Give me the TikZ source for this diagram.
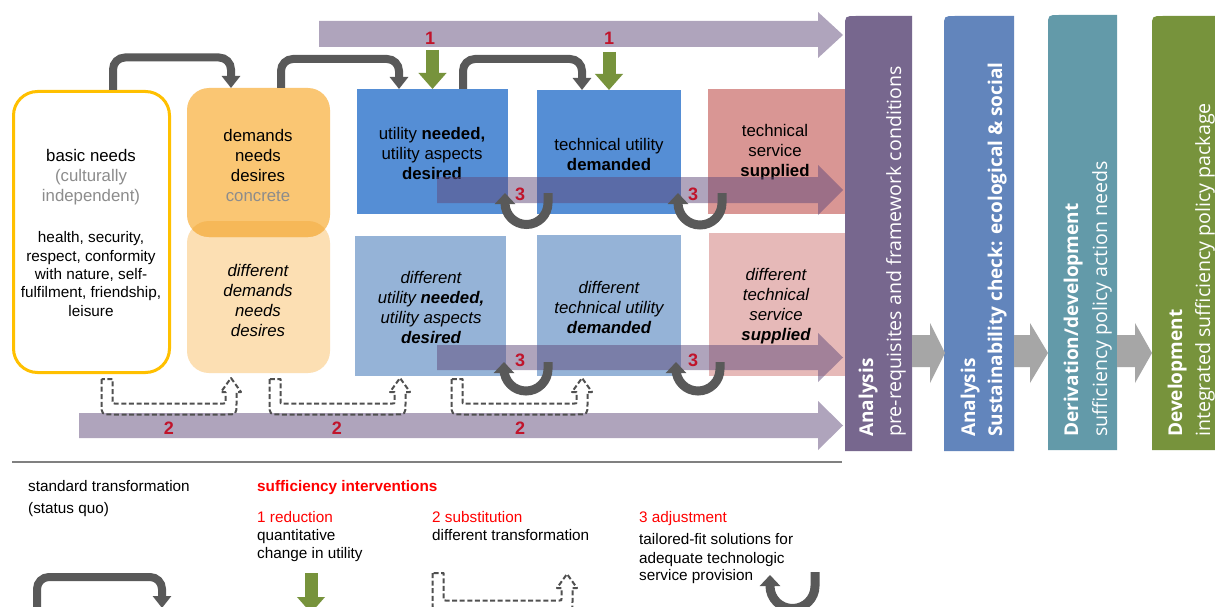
\documentclass[tikz,border=0pt]{standalone}
\usepackage{fontspec}
\setmainfont{Liberation Sans}
\newfontfamily\panelfont{Open Sans}
\usetikzlibrary{arrows.meta}
\definecolor{flowgrey}{HTML}{595959}
\definecolor{lavarrow}{HTML}{604A7B}
\definecolor{leafgreen}{HTML}{77933C}
\definecolor{numred}{HTML}{C0142B}
\definecolor{legred}{HTML}{FF0000}
\definecolor{softgrey}{HTML}{8C8C8C}
\definecolor{needyellow}{HTML}{FFC000}
\definecolor{orangetop}{HTML}{FAC673}
\definecolor{orangelow}{HTML}{FCDFB3}
\definecolor{orangeover}{HTML}{F6B858}
\definecolor{bluestrong}{HTML}{558ED5}
\definecolor{bluesoft}{HTML}{95B3D7}
\definecolor{redstrong}{HTML}{D99694}
\definecolor{redsoft}{HTML}{E6B9B8}
\definecolor{panelA}{HTML}{77678E}
\definecolor{panelB}{HTML}{6285BC}
\definecolor{panelC}{HTML}{639AA9}
\definecolor{panelD}{HTML}{77933C}
\definecolor{stepgrey}{HTML}{A6A6A6}
\definecolor{rulegrey}{HTML}{808080}
\definecolor{dashgrey}{HTML}{505050}
\tikzset{
  boxtext/.style={inner sep=0pt, align=center, font=\fontsize{16.8}{20}\selectfont},
  smalltext/.style={inner sep=0pt, align=center, font=\fontsize{15.3}{18.3}\selectfont},
  legtext/.style={inner sep=0pt, anchor=base west, font=\fontsize{15.3}{18}\selectfont},
  numlabel/.style={inner sep=0pt, text=numred, font=\fontsize{18}{18}\selectfont\bfseries},
  flow/.style={draw=flowgrey, line width=8pt, rounded corners=12pt, -{Triangle[width=18pt,length=12pt]}},
  turn/.style={draw=flowgrey, line width=9pt, -{Triangle[width=20pt,length=11pt]}},
  reduce/.style={draw=leafgreen, line width=13pt, -{Triangle[width=27pt,length=16pt]}},
  lavender/.style={fill=lavarrow, fill opacity=0.5},
  subst/.style={draw=dashgrey, line width=2pt, dash pattern=on 5pt off 2.6pt, line join=round},
  paneltitle/.style={rotate=90, anchor=base west, inner sep=0pt, text=white, font=\panelfont\fontsize{19}{19}\selectfont\bfseries},
  panelsub/.style={rotate=90, anchor=base west, inner sep=0pt, text=white, font=\panelfont\fontsize{19.6}{19.6}\selectfont},
  plainbox/.style={inner sep=0pt, outer sep=0pt, minimum width=#1},
  needbox/.style={draw=needyellow, line width=3pt, fill=white, rounded corners=24pt, inner sep=0pt, minimum width=156pt, minimum height=281pt},
}
\newcommand{\uturnarrow}[5]{% xr, xl, ystart, ycurve, yend
  \draw[turn] ({#1},{#3}) -- ({#1},{#4})
    .. controls ({#1},{#4+0.552*(#1-#2)/2}) and ({(#1+#2)/2+0.552*(#1-#2)/2},{#4+(#1-#2)/2}) .. ({(#1+#2)/2},{#4+(#1-#2)/2})
    .. controls ({(#1+#2)/2-0.552*(#1-#2)/2},{#4+(#1-#2)/2}) and ({#2},{#4+0.552*(#1-#2)/2}) .. ({#2},{#4})
    -- ({#2},{#5});}
\newcommand{\substarrow}[5]{% xl, xr, ystart, ybottom, ytip
  \draw[subst] ({#1-5.5},{#3}) -- ({#1-5.5},{#4-5.5})
   .. controls ({#1-5.5},{#4+5.5}) .. ({#1+5.5},{#4+5.5})
   -- ({#2-5.5},{#4+5.5}) .. controls ({#2+5.5},{#4+5.5}) .. ({#2+5.5},{#4-5.5})
   -- ({#2+5.5},{#5+14}) -- ({#2+10},{#5+14}) -- ({#2},{#5}) -- ({#2-10},{#5+14}) -- ({#2-5.5},{#5+14})
   -- ({#2-5.5},{#4-7.5}) .. controls ({#2-5.5},{#4-5.5}) .. ({#2-7.5},{#4-5.5})
   -- ({#1+7.5},{#4-5.5}) .. controls ({#1+5.5},{#4-5.5}) .. ({#1+5.5},{#4-7.5})
   -- ({#1+5.5},{#3}) -- cycle;}
\newcommand{\bandarrow}[7]{% x0, xhead, xtip, ytop, ybot, headtop, headbot
  \fill[lavender] (#1,#4) -- (#2,#4) -- (#2,#6) -- (#3,{(#6+#7)/2}) -- (#2,#7) -- (#2,#5) -- (#1,#5) -- cycle;}
\newcommand{\steparrow}[3]{%
  \fill[stepgrey] (#1,335) -- (#2,335) -- (#2,323) -- (#3,353) -- (#2,383) -- (#2,367) -- (#1,367) -- cycle;}
\newcommand{\panelshape}[5]{%
  \fill[#1] (#2,#5) -- (#2,{#4+11}) .. controls (#2,#4) .. ({#2+11},#4) -- (#3,#4) -- (#3,#5) -- cycle;}
\begin{document}
\begin{tikzpicture}[x=1pt,y=1pt,yscale=-1]
\useasboundingbox (0,0) rectangle (1215,607);
\clip (0,0) rectangle (1215,607);
\fill[white] (0,0) rectangle (1215,607);

% top reduction band
\bandarrow{319}{818}{843}{21}{47}{12}{58}

% boxes
\node[needbox] (needs) at (91.5,232) {};
\node[plainbox=143pt, fill=orangelow, rounded corners=22pt, minimum height=152pt] (demandsLow) at (258.5,297) {};
\node[plainbox=143pt, fill=orangetop, rounded corners=22pt, minimum height=149pt] (demandsTop) at (258.5,162.5) {};
\begin{scope}
  \clip[rounded corners=22pt] (187,221) rectangle (330,373);
  \fill[orangeover, rounded corners=22pt] (187,88) rectangle (330,237);
\end{scope}
\node[plainbox=151pt, fill=bluestrong, minimum height=125pt] (utilTop) at (432.5,151.5) {};
\node[plainbox=144pt, fill=bluestrong, minimum height=124pt] (techTop) at (609,152) {};
\node[plainbox=137pt, fill=redstrong, minimum height=125pt] (servTop) at (776.5,151.5) {};
\node[plainbox=151pt, fill=bluesoft, minimum height=140pt] (utilLow) at (430.5,306) {};
\node[plainbox=144pt, fill=bluesoft, minimum height=141pt] (techLow) at (609,305.5) {};
\node[plainbox=136pt, fill=redsoft, minimum height=143pt] (servLow) at (777,304.5) {};

% box texts
\node[boxtext] (needsA) at (91,177) {basic needs\\\textcolor{softgrey}{(culturally}\\\textcolor{softgrey}{independent)}};
\node[smalltext] (needsB) at (91,274) {health, security,\\respect, conformity\\with nature, self-\\fulfilment, friendship,\\leisure};
\node[boxtext] (demandsTopText) at (258,165) {demands\\needs\\desires\\\textcolor{softgrey}{concrete}};
\node[boxtext, font=\fontsize{16.8}{20}\selectfont\itshape] (demandsLowText) at (258,300) {different\\demands\\needs\\desires};
\node[boxtext] (utilTopText) at (432,153) {utility \textbf{needed,}\\utility aspects\\\textbf{desired}};
\node[boxtext] (techTopText) at (609,154) {technical utility\\\textbf{demanded}};
\node[boxtext] (servTopText) at (775,152) {technical\\service\\\textbf{supplied}};
\node[boxtext, font=\fontsize{16.8}{20}\selectfont\itshape] (utilLowText) at (431,307) {different\\utility \textbf{needed,}\\utility aspects\\\textbf{desired}};
\node[boxtext, font=\fontsize{16.8}{20}\selectfont\itshape] (techLowText) at (609,307) {different\\technical utility\\\textbf{demanded}};
\node[boxtext, font=\fontsize{16.8}{20}\selectfont\itshape] (servLowText) at (776,306) {different\\technical\\service\\\textbf{supplied}};

% standard transformation arrows
\draw[flow] ([xshift=21.5pt]needs.north) -- ++(0,-32.5) -| ([xshift=-27.5pt]demandsTop.north);
\draw[flow] ([xshift=22.5pt]demandsTop.north) -- ++(0,-29) -| ([xshift=-33.5pt]utilTop.north);
\draw[flow] ([xshift=30.5pt]utilTop.north) -- ++(0,-30) -| ([xshift=-27pt]techTop.north);

% reduction arrows
\coordinate (cutA) at (432.5,50);
\coordinate (cutB) at (609,52);
\draw[reduce] (cutA) -- (utilTop.north);
\draw[reduce] (cutB) -- (techTop.north);
\node[numlabel] (oneA) at (430,38) {1};
\node[numlabel] (oneB) at (609,38) {1};

% adjustment bands and loops
\bandarrow{437}{818}{843}{177}{203}{165}{215}
\bandarrow{437}{818}{843}{345}{370}{333}{382}
\uturnarrow{548}{505}{193}{203}{193}
\uturnarrow{722}{678}{193}{203}{193}
\uturnarrow{548}{504}{362}{369}{362}
\uturnarrow{720}{676}{362}{369}{362}
\node[numlabel] (threeA) at (520,194) {3};
\node[numlabel] (threeB) at (693,194) {3};
\node[numlabel] (threeC) at (520,360) {3};
\node[numlabel] (threeD) at (693,360) {3};

% substitution band and arrows
\bandarrow{79}{818}{843}{413}{438}{401}{450}
\substarrow{107}{231}{379}{409}{378}
\substarrow{275}{400}{379}{409}{378}
\substarrow{457}{582}{379}{409}{378}
\node[numlabel] (twoA) at (169,428) {2};
\node[numlabel] (twoB) at (337,428) {2};
\node[numlabel] (twoC) at (520,428) {2};

% right panels
\panelshape{panelA}{845}{912}{16}{451}
\panelshape{panelB}{944}{1014}{16}{451}
\panelshape{panelC}{1048}{1117}{15}{450}
\panelshape{panelD}{1152}{1222}{16}{450}
\steparrow{912}{930}{945}
\steparrow{1014}{1030}{1048}
\steparrow{1117}{1135}{1152}
\node[paneltitle] (pA1) at (873,437) {Analysis};
\node[panelsub] (pA2) at (901,437) {pre-requisites and framework conditions};
\node[paneltitle] (pB1) at (975,437) {Analysis};
\node[paneltitle] (pB2) at (1002,437) {Sustainability check: ecological \& social};
\node[paneltitle] (pC1) at (1078,437) {Derivation/development};
\node[panelsub] (pC2) at (1107,437) {sufficiency policy action needs};
\node[paneltitle] (pD1) at (1182,437) {Development};
\node[panelsub] (pD2) at (1210,437) {integrated sufficiency policy package};

% legend
\draw[rulegrey, line width=2.5pt] (12,462) -- (842,462);
\node[legtext] (lgA) at (28,491) {standard transformation};
\node[legtext] (lgB) at (28,513) {(status quo)};
\node[legtext, text=legred, font=\fontsize{15.3}{18}\selectfont\bfseries] (lgC) at (257,491) {sufficiency interventions};
\node[legtext, text=legred] (lgD) at (257,522) {1 reduction};
\node[legtext] (lgE) at (257,540) {quantitative};
\node[legtext] (lgF) at (257,558) {change in utility};
\node[legtext, text=legred] (lgG) at (432,522) {2 substitution};
\node[legtext] (lgH) at (432,540) {different transformation};
\node[legtext, text=legred] (lgI) at (639,522) {3 adjustment};
\node[legtext] (lgJ) at (639,544) {tailored-fit solutions for};
\node[legtext] (lgK) at (639,563) {adequate technologic};
\node[legtext] (lgL) at (639,580) {service provision};
\coordinate (legFlowA) at (37,620);
\coordinate (legFlowB) at (162,608);
\draw[flow] (legFlowA) |- (100,577) -| (legFlowB);
\coordinate (legCutA) at (311,573);
\coordinate (legCutB) at (311,613);
\draw[reduce] (legCutA) -- (legCutB);
\substarrow{438}{567}{573}{606}{574}
\uturnarrow{815}{770}{572}{586}{575}
\end{tikzpicture}
\end{document}
